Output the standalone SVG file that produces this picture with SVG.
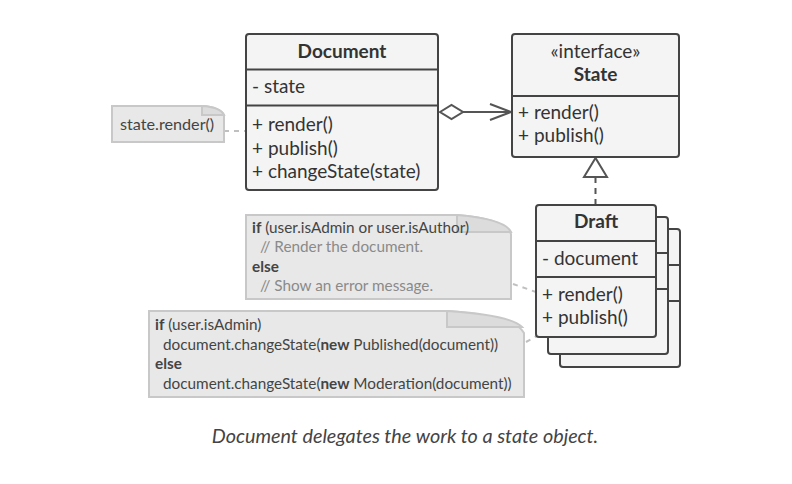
<svg xmlns="http://www.w3.org/2000/svg" width="792" height="484" viewBox="0 0 792 484">
<style>
.box{fill:#f4f4f4;stroke:#444;stroke-width:2}
.div{stroke:#444;stroke-width:2}
.t{font-family:Lato,"Liberation Sans",sans-serif;font-size:19px;fill:#333}
.b{font-weight:bold}
.note{fill:#e8e8e8;stroke:#c8c8c8;stroke-width:2}
.flap{fill:#dcdcdc;stroke:#c8c8c8;stroke-width:2}
.nt{font-family:Lato,"Liberation Sans",sans-serif;font-size:15.3px;fill:#444}
.cm{fill:#8a8a8a}
.dash{stroke:#c0c0c0;stroke-width:2;stroke-dasharray:5 5;fill:none}
.ln{stroke:#555;stroke-width:2;fill:none}
</style>
<rect width="792" height="484" fill="#fff"/>
<g id="connectors">
  <line class="dash" x1="224" y1="131" x2="246" y2="131"/>
  <line class="dash" x1="513" y1="284" x2="536" y2="292"/>
  <line class="dash" x1="526" y1="342" x2="537" y2="336"/>
  <line class="ln" x1="463" y1="112" x2="511" y2="112"/>
  <polygon points="440,112 451.5,105 463,112 451.5,119" fill="#fff" stroke="#555" stroke-width="2"/>
  <polyline class="ln" points="490,104 511,112 490,120"/>
  <line class="ln" x1="595.5" y1="177" x2="595.5" y2="205" stroke-dasharray="6 5"/>
  <polygon points="595.5,158 584,177 607,177" fill="#fff" stroke="#555" stroke-width="2"/>
</g>
<g id="note-render">
  <path class="note" d="M112,106 L202,106 Q220,107 224,115 L224,142 L112,142 Z"/>
  <path class="flap" d="M202,106 L202,115 L224,115 Q220,107 202,106 Z"/>
  <text class="nt" x="120" y="130" style="font-size:16.2px">state.render()</text>
</g>
<g id="document">
  <rect class="box" x="246" y="34" width="192" height="156" rx="3"/>
  <line class="div" x1="246" y1="69.5" x2="438" y2="69.5"/>
  <line class="div" x1="246" y1="105.5" x2="438" y2="105.5"/>
  <text class="t b" x="342" y="58" text-anchor="middle">Document</text>
  <text class="t" x="252" y="93">- state</text>
  <text class="t" x="252" y="131">+ render()</text>
  <text class="t" x="252" y="155">+ publish()</text>
  <text class="t" x="252" y="178">+ changeState(state)</text>
</g>
<g id="state">
  <rect class="box" x="512" y="34" width="167" height="123" rx="3"/>
  <line class="div" x1="512" y1="96" x2="679" y2="96"/>
  <text class="t" x="595.5" y="58" text-anchor="middle">«interface»</text>
  <text class="t b" x="595.5" y="81" text-anchor="middle">State</text>
  <text class="t" x="518" y="119">+ render()</text>
  <text class="t" x="518" y="142">+ publish()</text>
</g>
<g id="draft">
  <rect class="box" x="560" y="229" width="120" height="138" rx="3"/>
  <line class="div" x1="560" y1="265" x2="680" y2="265"/>
  <line class="div" x1="560" y1="301" x2="680" y2="301"/>
  <rect class="box" x="548" y="217" width="120" height="137" rx="3"/>
  <line class="div" x1="548" y1="253" x2="668" y2="253"/>
  <line class="div" x1="548" y1="289" x2="668" y2="289"/>
  <rect class="box" x="536" y="205" width="120" height="132" rx="3"/>
  <line class="div" x1="536" y1="241" x2="656" y2="241"/>
  <line class="div" x1="536" y1="277" x2="656" y2="277"/>
  <text class="t b" x="596" y="228" text-anchor="middle">Draft</text>
  <text class="t" x="542" y="265">- document</text>
  <text class="t" x="542" y="301">+ render()</text>
  <text class="t" x="542" y="324">+ publish()</text>
</g>
<g id="note-draft-render">
  <path class="note" d="M246,215 L457,215 Q505,219 511,234 L511,299 L246,299 Z"/>
  <path class="flap" d="M457,215 L457,232 L511,232 Q505,219 457,215 Z"/>
  <text class="nt" x="252" y="233"><tspan class="b">if</tspan> (user.isAdmin or user.isAuthor)</text>
  <text class="nt cm" x="260" y="252">// Render the document.</text>
  <text class="nt b" x="252" y="272">else</text>
  <text class="nt cm" x="260" y="291">// Show an error message.</text>
</g>
<g id="note-draft-publish">
  <path class="note" d="M149,311 L447,311 Q515,316 524,333 L524,397 L149,397 Z"/>
  <path class="flap" d="M447,311 L447,327 L522,327 Q510,315 447,311 Z"/>
  <text class="nt" x="155" y="330"><tspan class="b">if</tspan> (user.isAdmin)</text>
  <text class="nt" x="163" y="350">document.changeState(<tspan class="b">new</tspan> Published(document))</text>
  <text class="nt b" x="155" y="369">else</text>
  <text class="nt" x="163" y="389">document.changeState(<tspan class="b">new</tspan> Moderation(document))</text>
</g>
<text x="405" y="443" text-anchor="middle" font-family="Lato,'Liberation Sans',sans-serif" font-size="19.8" font-style="italic" fill="#444">Document delegates the work to a state object.</text>
</svg>
